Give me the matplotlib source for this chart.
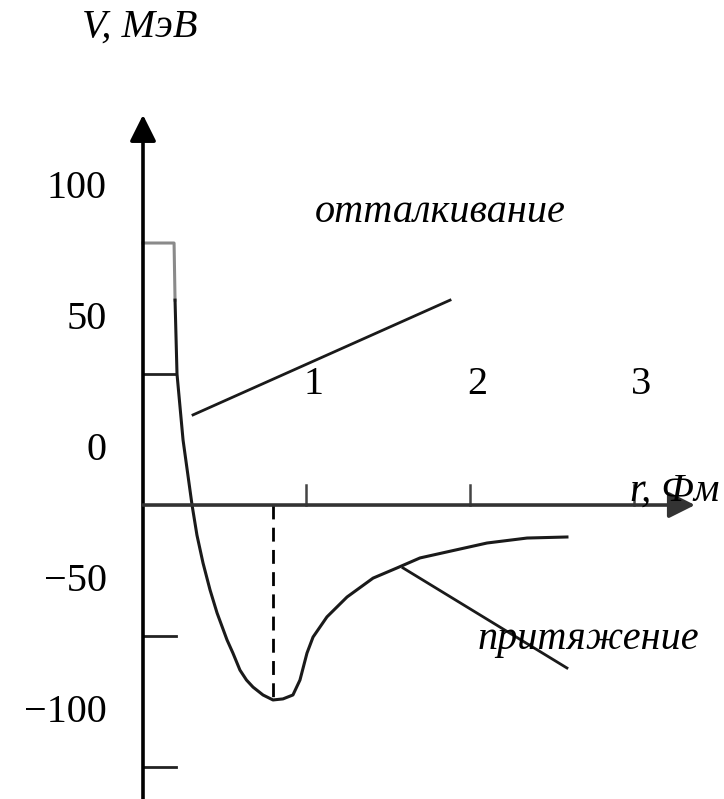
import matplotlib
matplotlib.use("Agg")
import matplotlib.pyplot as plt

# Nucleon-nucleon potential V(r): r in fm, V in MeV
R_CURVE = [0.0, 0.190, 0.196, 0.208, 0.245, 0.300, 0.330, 0.367, 0.410, 0.453,
           0.514, 0.550, 0.593, 0.633, 0.673, 0.734, 0.795, 0.856, 0.917, 0.960,
           1.003, 1.040, 1.125, 1.248, 1.407, 1.554, 1.694, 1.859, 2.104, 2.349,
           2.593]
V_CURVE = [100.0, 100.0, 78.2, 50.0, 24.8, 0.0, -11.5, -22.1, -32.4, -41.2,
           -51.5, -56.5, -63.0, -66.8, -69.5, -72.5, -74.4, -74.0, -72.5, -66.8,
           -56.5, -50.4, -42.7, -35.1, -27.9, -24.0, -20.2, -17.9, -14.5, -12.6,
           -12.2]

R_MIN = 0.795
V_MIN = -74.4

Y_TICKS = [100, 50, 0, -50, -100]
Y_TICK_LABELS = ["100", "50", "0", "\u221250", "\u2212100"]
X_TICKS = [1, 2, 3]
X_TICK_LABELS = ["1", "2", "3"]

# pointer lines to the captions
REP_R = [0.306, 1.878]
REP_V = [34.4, 78.2]
ATT_R = [1.590, 2.593]
ATT_V = [-24.0, -62.2]

SERIF = "Liberation Serif"
FS = 29

fig = plt.figure(figsize=(7.24, 7.99), dpi=100)
ax = fig.add_axes([0, 0, 1, 1])
ax.set_xlim(-0.8746, 3.5535)
ax.set_ylim(-112.2, 192.75)
ax.axis("off")

arrow = dict(arrowstyle="-|>,head_length=0.8,head_width=0.4", color="black",
             lw=2.6, shrinkA=0, shrinkB=0, mutation_scale=20)
# axes with arrows
ax.annotate("", xy=(0, 148.9), xytext=(0, -112.2), arrowprops=arrow)
ax.annotate("", xy=(3.376, 0), xytext=(0, 0),
            arrowprops=dict(arrow, color="#333333"))

# y ticks (short lines to the right) and shifted labels
for v, lab in zip(Y_TICKS, Y_TICK_LABELS):
    if v not in (0, 100):
        ax.plot([0, 0.2], [v, v], color="#222222", lw=2)
    ax.annotate(lab, xy=(0, v), xytext=(-26, 39), textcoords="offset points",
                ha="right", va="center", fontsize=FS, family=SERIF)

# x ticks (upwards) and labels placed high above the axis
for r, lab in zip(X_TICKS, X_TICK_LABELS):
    ax.plot([r, r], [0, 7.6], color="#444444", lw=1.8)
    ax.text(r + 0.045, 46, lab, ha="center", va="center",
            fontsize=FS, family=SERIF)

# potential curve: flat top (gray) then the wall and the well
ax.plot(R_CURVE[:3], V_CURVE[:3], color="#8a8a8a", lw=2.2)
ax.plot(R_CURVE[2:], V_CURVE[2:], color="#1a1a1a", lw=2.2,
        solid_joinstyle="round")
ax.plot([R_MIN, R_MIN], [0, V_MIN], color="black", lw=2, ls=(0, (5, 3)))

ax.plot(REP_R, REP_V, color="#1a1a1a", lw=2)
ax.plot(ATT_R, ATT_V, color="#1a1a1a", lw=2)

it = dict(family=SERIF, style="italic", fontsize=FS)
ax.text(-0.018, 182.4, "V, МэВ", ha="center", va="center", **it)
ax.text(1.817, 111.5, "отталкивание", ha="center", va="center", **it)
ax.text(2.722, -51.5, "притяжение", ha="center", va="center", **it)
ax.text(2.979, 1.5, "r, Фм", ha="left", va="baseline", **it)

fig.savefig("out.png", dpi=100)
